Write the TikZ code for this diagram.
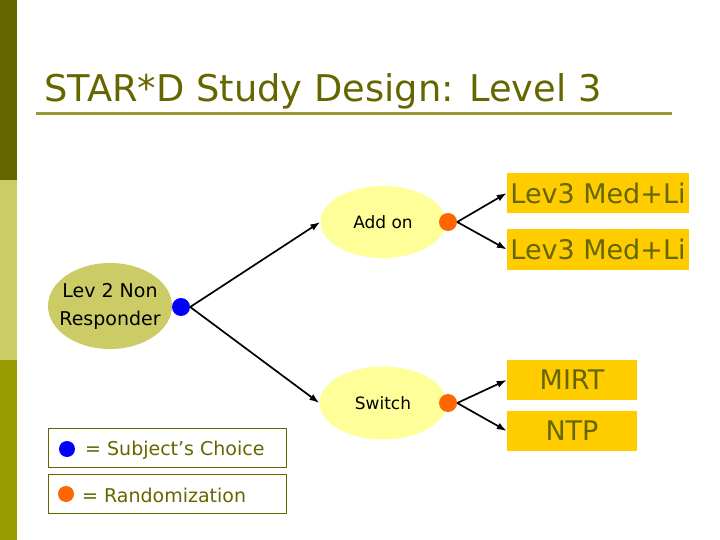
\documentclass[tikz,border=0pt]{standalone}
\usepackage{fontspec}
\setmainfont{DejaVu Sans}
\usetikzlibrary{arrows.meta,shapes.geometric}
\begin{document}
\begin{tikzpicture}[x=1pt,y=-1pt,
    oval/.style={ellipse, inner sep=0pt, text=black, font=\fontsize{17}{20}\selectfont},
    dot/.style={circle, inner sep=0pt, minimum size=18pt},
    treat/.style={rectangle, fill=treatFill, text=barDark, inner sep=0pt, minimum height=40pt, font=\fontsize{27}{30}\selectfont},
    key/.style={rectangle, draw=barDark, line width=0.8pt, minimum width=238pt, minimum height=39pt, inner sep=0pt},
    keytext/.style={anchor=base west, inner sep=0pt, text=barDark, font=\fontsize{19}{22}\selectfont},
    arr/.style={-{Latex[length=10pt,width=7pt]}, line width=1.7pt}]
\definecolor{barDark}{RGB}{102,102,0}
\definecolor{barLight}{RGB}{204,204,102}
\definecolor{barMid}{RGB}{153,153,0}
\definecolor{ruleOlive}{RGB}{153,153,51}
\definecolor{respFill}{RGB}{204,204,102}
\definecolor{optFill}{RGB}{255,255,153}
\definecolor{treatFill}{RGB}{255,204,0}
\definecolor{choiceBlue}{RGB}{0,0,255}
\definecolor{randOrange}{RGB}{255,102,0}
\useasboundingbox (0,0) rectangle (720,540);
\fill[white] (0,0) rectangle (720,540);
\fill[barDark] (0,0) rectangle (17,180);
\fill[barLight] (0,180) rectangle (17,360);
\fill[barMid] (0,360) rectangle (17,540);
\node[anchor=base west, inner sep=0pt, text=barDark, font=\fontsize{36.8}{40}\selectfont] (title) at (44,102) {STAR*D Study Design: Level 3};
\draw[ruleOlive, line width=3pt] (36,114) -- (672,114);
\node[oval, fill=respFill, minimum width=124pt, minimum height=86pt] (resp) at (110,306) {};
\node[align=center, inner sep=0pt, text=black, font=\fontsize{19}{28}\selectfont] (respText) at (resp.center) {Lev 2 Non\\Responder};
\node[dot, fill=choiceBlue] (choice) at (181,307) {};
\node[oval, fill=optFill, minimum width=125pt, minimum height=72pt] (addon) at (383,222) {Add on};
\node[dot, fill=randOrange] (randA) at (448,222) {};
\node[oval, fill=optFill, minimum width=127pt, minimum height=73pt] (switch) at (383,403) {Switch};
\node[dot, fill=randOrange] (randS) at (448,403) {};
\node[treat, minimum width=182pt] (medA) at (598,193) {Lev3 Med+Li};
\node[treat, minimum width=182pt] (medB) at (598,249.5) {Lev3 Med+Li};
\node[treat, minimum width=130pt] (mirt) at (572,380) {MIRT};
\node[treat, minimum width=130pt] (ntp) at (572,431) {NTP};
\draw[arr] (choice.east) -- (addon.west);
\draw[arr] (choice.east) -- (switch.west);
\draw[arr] (randA.east) -- (medA.west);
\draw[arr] (randA.east) -- (medB.west);
\draw[arr] (randS.east) -- (mirt.west);
\draw[arr] (randS.east) -- (ntp.west);
\node[key] (keyChoice) at (167.5,447.5) {};
\node[dot, fill=choiceBlue, minimum size=16pt] (keyBlue) at (67,449) {};
\node[keytext] (keyChoiceText) at (85,455) {= Subject’s Choice};
\node[key] (keyRand) at (167.5,493.5) {};
\node[dot, fill=randOrange, minimum size=16pt] (keyOrange) at (66,494) {};
\node[keytext] (keyRandText) at (82,502) {= Randomization};
\end{tikzpicture}
\end{document}
